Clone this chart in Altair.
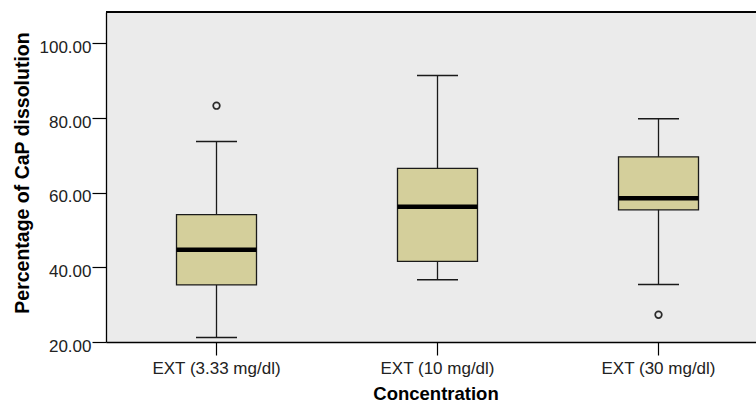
import altair as alt
import pandas as pd

categories = ["EXT (3.33 mg/dl)", "EXT (10 mg/dl)", "EXT (30 mg/dl)"]
whisker_low = [21.2, 36.7, 35.4]
q1 = [35.3, 41.6, 55.4]
median = [44.7, 56.2, 58.5]
q3 = [54.1, 66.5, 69.6]
whisker_high = [73.7, 91.4, 79.8]
outlier_cat = ["EXT (3.33 mg/dl)", "EXT (30 mg/dl)"]
outlier_val = [83.3, 27.3]
y_ticks = [20, 40, 60, 80, 100]
y_min, y_max = 20, 108.4

df = pd.DataFrame({"cat": categories, "lo": whisker_low, "q1": q1,
                   "med": median, "q3": q3, "hi": whisker_high})
df_out = pd.DataFrame({"cat": outlier_cat, "val": outlier_val})

FONT = "Liberation Sans"
xscale = alt.Scale(domain=categories, range=[0, 663], paddingInner=0, paddingOuter=0)
yscale = alt.Scale(domain=[y_min, y_max], nice=False, zero=False)

X = alt.X("cat:N", scale=xscale, sort=categories,
          axis=alt.Axis(title="Concentration", labelAngle=0, labelFontSize=17,
                        labelFont=FONT, labelColor="#222222", labelPadding=18.3,
                        labelBaseline="alphabetic", tickSize=13, tickColor="black",
                        tickWidth=1.2, domainColor="black", domainWidth=1.3,
                        titleFont=FONT, titleFontSize=18.5, titleFontWeight="bold",
                        titleColor="black", titleX=329.5, titleY=57,
                        titleBaseline="alphabetic", titleAlign="center"))
Y_axis = alt.Axis(title="Percentage of CaP dissolution", values=y_ticks, format=".2f",
                  grid=False, labelFontSize=17, labelFont=FONT, labelColor="#222222",
                  labelPadding=1, labelBaseline="alphabetic", labelOffset=9,
                  tickSize=14, tickColor="black", tickWidth=1.2,
                  domainColor="black", domainWidth=1.3,
                  titleFont=FONT, titleFontSize=19.5, titleFontWeight="bold",
                  titleColor="black", titleAngle=-90, titleX=-77.7, titleY=160.5,
                  titleBaseline="alphabetic", titleAlign="center")

base = alt.Chart(df)
whisk = base.mark_rule(color="#1a1a1a", strokeWidth=1.3).encode(
    x=X, y=alt.Y("lo:Q", scale=yscale, axis=Y_axis), y2="hi:Q")
box = base.mark_bar(size=80, fill="#D4CF9B", stroke="#1a1a1a", strokeWidth=1.3,
                    opacity=1).encode(
    x=X, y=alt.Y("q1:Q", scale=yscale, axis=Y_axis), y2="q3:Q")
med = base.mark_tick(color="black", size=80, thickness=4.5, orient="horizontal",
                     opacity=1).encode(
    x=X, y=alt.Y("med:Q", scale=yscale, axis=Y_axis))
cap_lo = base.mark_tick(color="#1a1a1a", size=41, thickness=1.5, orient="horizontal",
                        opacity=1).encode(
    x=X, y=alt.Y("lo:Q", scale=yscale, axis=Y_axis))
cap_hi = base.mark_tick(color="#1a1a1a", size=41, thickness=1.5, orient="horizontal",
                        opacity=1).encode(
    x=X, y=alt.Y("hi:Q", scale=yscale, axis=Y_axis))
outl = alt.Chart(df_out).mark_point(shape="circle", filled=False, size=44,
                                    color="#2a2a2a", strokeWidth=1.7, opacity=1).encode(
    x=X, y=alt.Y("val:Q", scale=yscale, axis=Y_axis))
top = alt.Chart(df).mark_rule(color="black", strokeWidth=1.3).encode(
    y=alt.datum(y_max, scale=yscale))

chart = alt.layer(whisk, box, med, cap_lo, cap_hi, outl, top).properties(
    width=650, height=330,
    autosize=alt.AutoSizeParams(type="none"),
    padding={"left": 106, "top": 12, "right": 0, "bottom": 61},
    background="white",
).configure_view(stroke=None, fill="#EBEBEB")

chart.save("out.html", embed_options={"renderer": "svg", "actions": False})
